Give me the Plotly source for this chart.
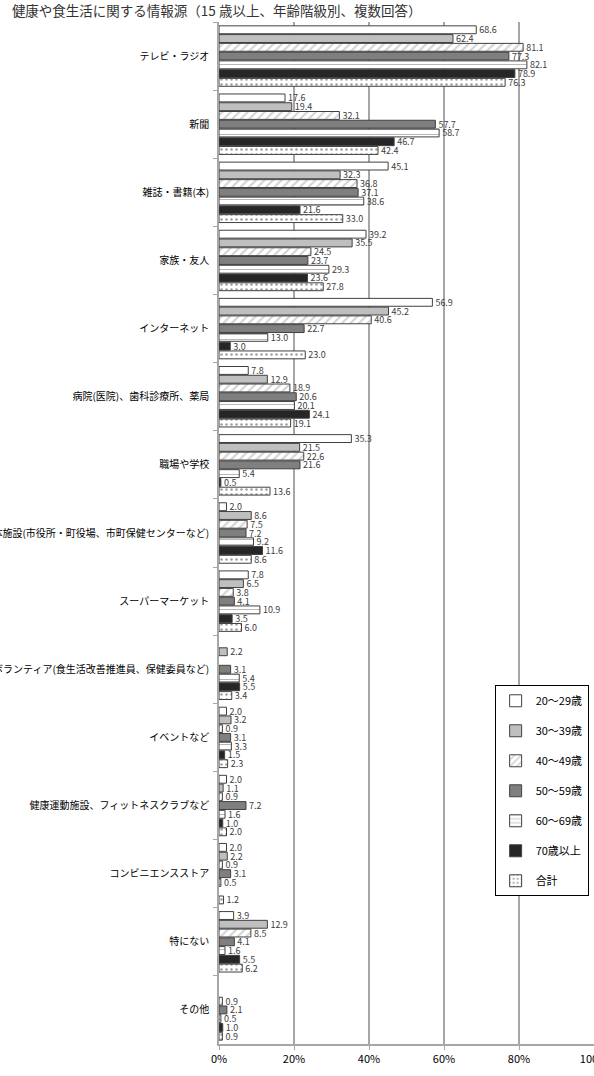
import plotly.graph_objects as go

categories = [
    "テレビ・ラジオ",
    "新聞",
    "雑誌・書籍(本)",
    "家族・友人",
    "インターネット",
    "病院(医院)、歯科診療所、薬局",
    "職場や学校",
    "自治体施設(市役所・町役場、市町保健センターなど)",
    "スーパーマーケット",
    "ボランティア(食生活改善推進員、保健委員など)",
    "イベントなど",
    "健康運動施設、フィットネスクラブなど",
    "コンビニエンスストア",
    "特にない",
    "その他",
]

series_names = ["20〜29歳", "30〜39歳", "40〜49歳", "50〜59歳", "60〜69歳", "70歳以上", "合計"]

age_20_29 = [68.6, 17.6, 45.1, 39.2, 56.9, 7.8, 35.3, 2.0, 7.8, None, 2.0, 2.0, 2.0, 3.9, None]
age_30_39 = [62.4, 19.4, 32.3, 35.5, 45.2, 12.9, 21.5, 8.6, 6.5, 2.2, 3.2, 1.1, 2.2, 12.9, None]
age_40_49 = [81.1, 32.1, 36.8, 24.5, 40.6, 18.9, 22.6, 7.5, 3.8, None, 0.9, 0.9, 0.9, 8.5, 0.9]
age_50_59 = [77.3, 57.7, 37.1, 23.7, 22.7, 20.6, 21.6, 7.2, 4.1, 3.1, 3.1, 7.2, 3.1, 4.1, 2.1]
age_60_69 = [82.1, 58.7, 38.6, 29.3, 13.0, 20.1, 5.4, 9.2, 10.9, 5.4, 3.3, 1.6, 0.5, 1.6, 0.5]
age_70_up = [78.9, 46.7, 21.6, 23.6, 3.0, 24.1, 0.5, 11.6, 3.5, 5.5, 1.5, 1.0, None, 5.5, 1.0]
total = [76.3, 42.4, 33.0, 27.8, 23.0, 19.1, 13.6, 8.6, 6.0, 3.4, 2.3, 2.0, 1.2, 6.2, 0.9]

series_values = [age_20_29, age_30_39, age_40_49, age_50_59, age_60_69, age_70_up, total]

x_tick_vals = [0, 20, 40, 60, 80, 100]
x_tick_text = ["0%", "20%", "40%", "60%", "80%", "100%"]

styles = [
    dict(color="white", pattern=None),
    dict(color="#bfbfbf", pattern=None),
    dict(color="white", pattern=dict(shape="/", fgcolor="#a6a6a6", bgcolor="white", size=6, solidity=0.35, fillmode="overlay")),
    dict(color="#7f7f7f", pattern=None),
    dict(color="white", pattern=dict(shape="-", fgcolor="#404040", bgcolor="white", size=5, solidity=0.15, fillmode="overlay")),
    dict(color="#262626", pattern=None),
    dict(color="white", pattern=dict(shape=".", fgcolor="#404040", bgcolor="white", size=5, solidity=0.2, fillmode="overlay")),
]

FONT = "Noto Sans CJK JP"

fig = go.Figure()
for name, vals, st in zip(series_names, series_values, styles):
    marker = dict(color=st["color"], line=dict(color="#404040", width=1))
    if st["pattern"] is not None:
        marker["pattern"] = st["pattern"]
    fig.add_trace(go.Bar(
        y=categories,
        x=vals,
        name=name,
        orientation="h",
        marker=marker,
        text=[None if v is None else f"{v:.1f}" for v in vals],
        textposition="outside",
        textfont=dict(size=9, color="#404040", family=FONT),
        constraintext="none",
        cliponaxis=False,
        legendgroup=name,
    ))

fig.update_layout(
    template="none",
    width=594,
    height=1076,
    margin=dict(l=219, r=0, t=22, b=32),
    paper_bgcolor="white",
    plot_bgcolor="white",
    font=dict(family=FONT, color="#000000"),
    barmode="group",
    bargap=0.1,
    bargroupgap=0.1,
    title=dict(
        text="健康や食生活に関する情報源（15 歳以上、年齢階級別、複数回答）",
        x=0.02, xanchor="left", y=0.9935, yanchor="top",
        font=dict(size=13.5, color="#333333", family=FONT),
    ),
    showlegend=True,
    legend=dict(
        x=0.735, y=0.351, xanchor="left", yanchor="top",
        bgcolor="white", bordercolor="#000000", borderwidth=1,
        font=dict(size=11, color="#000000", family=FONT),
        tracegroupgap=11,
        traceorder="grouped",
        itemwidth=30,
    ),
    xaxis=dict(
        range=[0, 100],
        tickvals=x_tick_vals,
        ticktext=x_tick_text,
        ticklabeloverflow="allow",
        showgrid=True,
        gridcolor="#a6a6a6",
        gridwidth=1.5,
        zeroline=False,
        showline=True,
        linecolor="#a6a6a6",
        linewidth=1.5,
        ticks="outside",
        ticklen=4,
        tickcolor="#a6a6a6",
        tickfont=dict(size=11, color="#000000", family=FONT),
        automargin=False,
    ),
    yaxis=dict(
        autorange="reversed",
        showgrid=False,
        zeroline=False,
        showline=True,
        linecolor="#a6a6a6",
        linewidth=1.5,
        ticks="outside",
        tickson="boundaries",
        ticklen=4,
        tickcolor="#a6a6a6",
        ticklabelstandoff=6,
        tickfont=dict(size=10, color="#000000", family=FONT),
        automargin=False,
    ),
)

fig.write_html("out.html")
